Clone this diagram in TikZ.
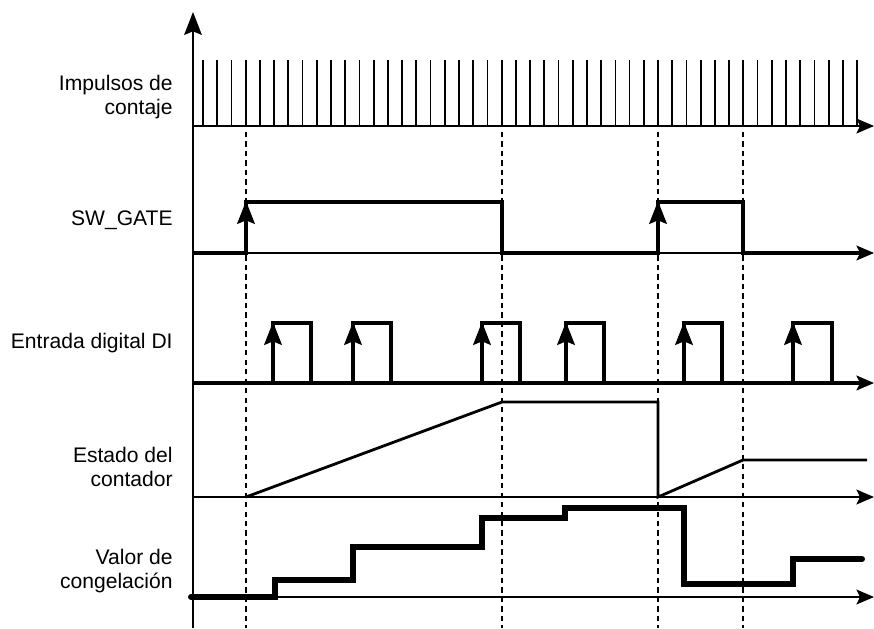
\documentclass[tikz,border=0pt]{standalone}
\usepackage{fontspec}
\setmainfont{Liberation Sans}
\usetikzlibrary{arrows.meta}

\begin{document}
\begin{tikzpicture}[
  x=0.02cm, y=-0.02cm,
  lbl/.style={anchor=east, align=right, inner sep=0pt, font=\fontsize{12}{13.6}\selectfont},
  axis/.style={line width=1.2pt, -{Stealth[length=13pt, width=10pt, inset=2pt]}},
  base/.style={line width=0.9pt, -{Stealth[length=10pt, width=8.5pt, inset=2pt]}},
  pulse/.style={line width=1pt},
  sig/.style={line width=1.9pt},
  ramp/.style={line width=1.6pt},
  frz/.style={line width=3.4pt, line cap=round},
  guide/.style={line width=0.8pt, dash pattern=on 3pt off 2.4pt},
  edgearrow/.style={line width=1.9pt, -{Stealth[length=13pt, width=10pt, inset=2pt]}}
]
  \useasboundingbox (0,0) rectangle (874,628);

  % Eje vertical y lineas base de cada senal
  \draw[axis] (193,628) -- (193,12);
  \foreach \y in {126,253,383,497,597} {
    \draw[base] (193,\y) -- (874,\y);
  }

  % Lineas de referencia discontinuas
  \foreach \x in {246,502,658,743} {
    \draw[guide] (\x,132) -- (\x,628);
  }

  % Impulsos de contaje
  \foreach \i in {0,...,46} {
    \draw[pulse] ({203+\i*14.22},126) -- ({203+\i*14.22},60);
  }

  % SW_GATE
  \draw[sig] (193,253) -- (246,253) -- (246,202) -- (502,202) -- (502,253)
    -- (658,253) -- (658,202) -- (743,202) -- (743,253) -- (860,253);
  \foreach \x in {246,658} {
    \draw[edgearrow] (\x,253) -- (\x,201);
  }

  % Entrada digital DI
  \draw[sig] (193,383) -- (860,383);
  \foreach \r/\f in {273/311, 353/391, 482/520, 566/604, 684/722, 793/832} {
    \draw[sig] (\r,383) -- (\r,323) -- (\f,323) -- (\f,383);
    \draw[edgearrow] (\r,383) -- (\r,322);
  }

  % Estado del contador
  \draw[ramp] (246,497) -- (502,402) -- (658,402) -- (658,497) -- (743,460) -- (867,460);

  % Valor de congelacion
  \draw[frz] (191,597) -- (275,597) -- (275,580) -- (353,580) -- (353,547)
    -- (482,547) -- (482,518) -- (565,518) -- (565,508) -- (684,508)
    -- (684,584) -- (793,584) -- (793,559) -- (862,559);

  % Etiquetas
  \node[lbl] (impulsos) at (173,97) {Impulsos de\\contaje};
  \node[lbl] (gate) at (173,220) {SW\_GATE};
  \node[lbl] (entrada) at (173,343) {Entrada digital DI};
  \node[lbl] (estado) at (173,467) {Estado del\\contador};
  \node[lbl] (valor) at (173,571) {Valor de\\congelación};
\end{tikzpicture}
\end{document}
